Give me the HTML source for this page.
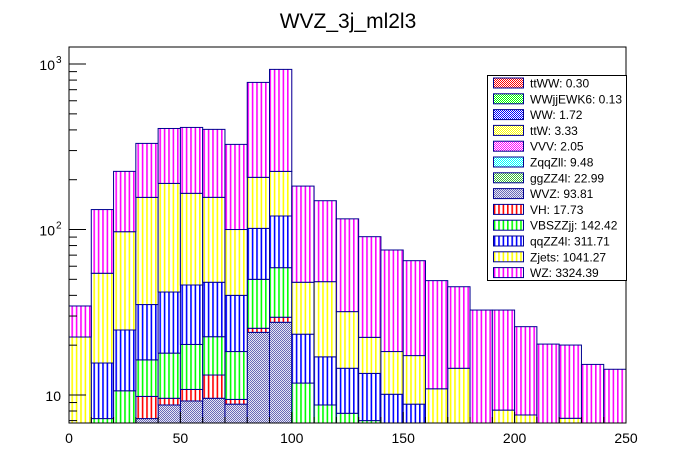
<!DOCTYPE html>
<html><head><meta charset="utf-8"><style>
html,body{margin:0;padding:0;background:#fff;}
svg{display:block;font-family:"Liberation Sans",Arial,sans-serif;}
</style></head><body>
<svg id="chart" width="696" height="472" viewBox="0 0 696 472">
<defs>
<pattern id="vWZ" width="4.4" height="10" patternUnits="userSpaceOnUse"><rect width="4.4" height="10" fill="#fff"/><rect x="1" width="1.6" height="10" fill="#ff00ff"/></pattern>
<pattern id="vZj" width="4.4" height="10" patternUnits="userSpaceOnUse"><rect width="4.4" height="10" fill="#fff"/><rect x="1" width="1.6" height="10" fill="#ffff00"/></pattern>
<pattern id="vqq" width="4.4" height="10" patternUnits="userSpaceOnUse"><rect width="4.4" height="10" fill="#fff"/><rect x="1" width="1.6" height="10" fill="#0000ff"/></pattern>
<pattern id="vVBS" width="4.4" height="10" patternUnits="userSpaceOnUse"><rect width="4.4" height="10" fill="#fff"/><rect x="1" width="1.6" height="10" fill="#00ff00"/></pattern>
<pattern id="vVH" width="4.4" height="10" patternUnits="userSpaceOnUse"><rect width="4.4" height="10" fill="#fff"/><rect x="1" width="1.6" height="10" fill="#ff0000"/></pattern>
<pattern id="cWVZ" width="2" height="2" patternUnits="userSpaceOnUse"><rect width="2" height="2" fill="#e8e8f4"/><rect width="1" height="1" fill="#6a6ab8"/><rect x="1" y="1" width="1" height="1" fill="#6a6ab8"/></pattern>
<pattern id="cgg" width="2" height="2" patternUnits="userSpaceOnUse"><rect width="2" height="2" fill="#fff"/><rect width="1" height="1" fill="#3cb83c"/><rect x="1" y="1" width="1" height="1" fill="#3cb83c"/></pattern>
<pattern id="cR" width="2" height="2" patternUnits="userSpaceOnUse"><rect width="2" height="2" fill="#fff"/><rect width="1" height="1" fill="#ff0000"/><rect x="1" y="1" width="1" height="1" fill="#ff0000"/></pattern>
<pattern id="cG" width="2" height="2" patternUnits="userSpaceOnUse"><rect width="2" height="2" fill="#fff"/><rect width="1" height="1" fill="#00ff00"/><rect x="1" y="1" width="1" height="1" fill="#00ff00"/></pattern>
<pattern id="cB" width="2" height="2" patternUnits="userSpaceOnUse"><rect width="2" height="2" fill="#fff"/><rect width="1" height="1" fill="#0000ff"/><rect x="1" y="1" width="1" height="1" fill="#0000ff"/></pattern>
<pattern id="cY" width="2" height="2" patternUnits="userSpaceOnUse"><rect width="2" height="2" fill="#fff"/><rect width="1" height="1" fill="#ffff00"/><rect x="1" y="1" width="1" height="1" fill="#ffff00"/></pattern>
<pattern id="cM" width="2" height="2" patternUnits="userSpaceOnUse"><rect width="2" height="2" fill="#fff"/><rect width="1" height="1" fill="#ff00ff"/><rect x="1" y="1" width="1" height="1" fill="#ff00ff"/></pattern>
<pattern id="cC" width="2" height="2" patternUnits="userSpaceOnUse"><rect width="2" height="2" fill="#fff"/><rect width="1" height="1" fill="#00ffff"/><rect x="1" y="1" width="1" height="1" fill="#00ffff"/></pattern>
<clipPath id="plotclip"><rect x="69" y="47" width="557" height="376"/></clipPath>
</defs>
<text x="348" y="28" font-size="21" text-anchor="middle">WVZ_3j_ml2l3</text>
<g id="bars" clip-path="url(#plotclip)"></g>
<rect x="69" y="47" width="557" height="376" fill="none" stroke="#000" stroke-width="1"/>
<g id="axes"></g>
<g id="legend"></g>
</svg>
<script>
const binEdgesLow = [0,10,20,30,40,50,60,70,80,90,100,110,120,130,140,150,160,170,180,190,200,210,220,230,240];
const seriesNames = ["WVZ","VH","VBSZZjj","qqZZ4l","Zjets","WZ"];
const valWVZ   = [0,0,0,7.2,8.7,9.2,9.55,8.8,23.9,27.5,0,0,0,0,0,0,0,0,0,0,0,0,0,0,0];
const valVH    = [0,0,0,2.6,0.85,1.6,3.65,0.6,1.4,2.0,0,0,0,0,0,0,0,0,0,0,0,0,0,0,0];
const valVBS   = [0,7.2,10.6,6.5,8.35,9.4,9.3,8.9,24.7,29.3,11.8,8.7,7.75,7.0,0,0,0,0,0,0,0,0,0,0,0];
const valQQZZ  = [0,8.4,14.1,18.9,24,26,25.5,21.7,51.6,61.9,11.5,8.3,6.75,6.5,10.1,8.8,0,0,0,0,0,0,0,0,0];
const valZjets = [22.4,38.8,72.3,121.2,148.1,119.3,108.5,60,105.1,103.9,24.7,31.4,17.4,8.8,8.2,8.5,10.9,14.5,0,8.1,7.57,0,7.23,0,0];
const valWZ    = [12.1,77.6,127.6,175.1,218,248.5,246.5,227,568,704,135,100.9,84.1,68.2,56.9,47.5,38.2,30.6,32.6,24.5,18.3,20.3,12.8,15.3,14.3];
const legendLabels = ["ttWW: 0.30","WWjjEWK6: 0.13","WW: 1.72","ttW: 3.33","VVV: 2.05","ZqqZll: 9.48","ggZZ4l: 22.99","WVZ: 93.81","VH: 17.73","VBSZZjj: 142.42","qqZZ4l: 311.71","Zjets: 1041.27","WZ: 3324.39"];
const xTickLabels = [0,50,100,150,200,250];
const yTickValues = [10,100,1000];

const NS="http://www.w3.org/2000/svg";
const X0=69,X1=626,Y0=423,Y1=47;
const xMin=0,xMax=250,yMin=6.77,yMax=1268;
function xs(v){return X0+(v-xMin)/(xMax-xMin)*(X1-X0);}
function ys(v){v=Math.max(v,1e-3);return Y0-(Math.log10(v)-Math.log10(yMin))/(Math.log10(yMax)-Math.log10(yMin))*(Y0-Y1);}
function mk(t,a,p){const e=document.createElementNS(NS,t);for(const k in a)e.setAttribute(k,a[k]);p.appendChild(e);return e;}

const seriesVals=[valWVZ,valVH,valVBS,valQQZZ,valZjets,valWZ];
const fills=["url(#cWVZ)","url(#vVH)","url(#vVBS)","url(#vqq)","url(#vZj)","url(#vWZ)"];
const bars=document.getElementById('bars');
const cum=binEdgesLow.map(()=>0);
seriesVals.forEach((vals,si)=>{
  const g=mk('g',{},bars);
  
  
  binEdgesLow.forEach((lo,i)=>{
    const base=cum[i],top=base+vals[i];cum[i]=top;
    if(vals[i]<=0)return;
    const xa=xs(lo),xb=xs(lo+10);
    const yb=base>0?ys(base):Y0+5,yt=ys(top);
    if(yt>=Y0)return;
    const r=mk('rect',{x:xa,y:yt,width:xb-xa,height:Math.max(0,yb-yt),fill:fills[si],stroke:"#000090","stroke-width":1},g);
    
    
  });
});

const ax=document.getElementById('axes');
for(let v=0;v<=250;v+=10){
  const major=v%50===0;
  mk('line',{x1:xs(v),x2:xs(v),y1:Y0,y2:Y0-(major?11:6),stroke:"#000"},ax);
}
xTickLabels.forEach(v=>{
  const t=mk('text',{x:xs(v),y:443,"font-size":14,"text-anchor":"middle"},ax);
  t.textContent=v;
  
  
});
for(let d=1;d<=1000;d*=10){
  for(let m=1;m<10;m++){
    const v=d*m;if(v<yMin||v>yMax)continue;
    mk('line',{x1:X0,x2:X0+(m===1?17:8),y1:ys(v),y2:ys(v),stroke:"#000"},ax);
  }
}
yTickValues.forEach(v=>{
  const e=Math.round(Math.log10(v));
  const t=mk('text',{x:e===1?61:55,y:ys(v)+6,"font-size":14,"text-anchor":"end"},ax);
  t.textContent="10";
  
  
  if(e>1){const s=mk('text',{x:56,y:ys(v)-1,"font-size":10},ax);s.textContent=String(e);}
});

const lg=document.getElementById('legend');
mk('rect',{x:487.5,y:75.5,width:139,height:205,fill:"#fff",stroke:"#000"},lg);
const lfills=["url(#cR)","url(#cG)","url(#cB)","url(#cY)","url(#cM)","url(#cC)","url(#cgg)","url(#cWVZ)","url(#vVH)","url(#vVBS)","url(#vqq)","url(#vZj)","url(#vWZ)"];
legendLabels.forEach((lab,i)=>{
  const cy=83+i*15.8;
  const g=mk('g',{},lg);
  
  
  mk('rect',{x:493.5,y:cy-5,width:30,height:10,fill:lfills[i],stroke:"#000090"},g);
  const t=mk('text',{x:530,y:cy+4.5,"font-size":12},g);
  t.textContent=lab;
});
</script>
</body></html>
